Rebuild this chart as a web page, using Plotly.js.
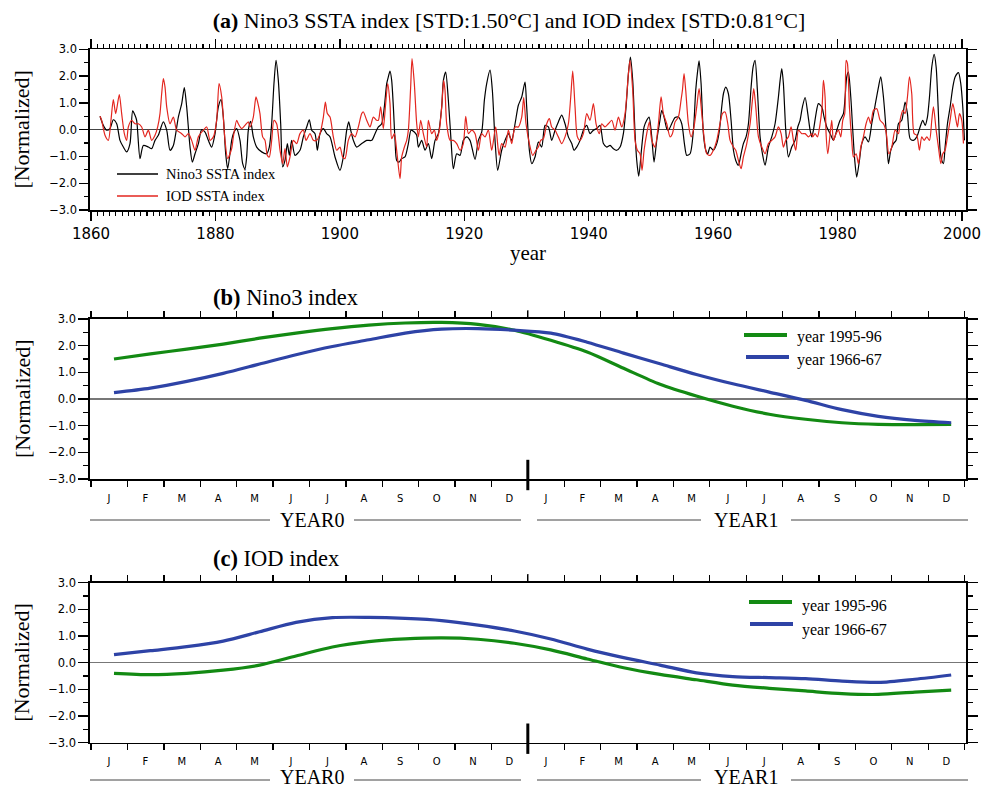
<!DOCTYPE html>
<html><head><meta charset="utf-8">
<script src="https://cdn.plot.ly/plotly-3.0.1.min.js"></script>
<style>html,body{margin:0;padding:0;background:#fff}#chart{width:986px;height:790px}</style>
</head><body><div id="chart"></div>
<script>
// ---------- DATA ----------
const nino3Year = [1861.45,1861.98,1862.52,1863.05,1863.59,1864.13,1864.66,1865.20,1865.73,1866.27,1866.70,1867.07,1867.34,1867.88,1868.41,1869.22,1869.75,1870.29,1870.82,1871.63,1872.17,1872.70,1873.24,1874.04,1874.58,1875.00,1875.38,1875.92,1876.29,1876.72,1877.26,1877.79,1878.33,1878.86,1879.40,1879.94,1880.47,1880.90,1881.27,1881.65,1881.97,1882.61,
1882.88,1883.41,1883.95,1884.38,1884.75,1885.02,1885.29,1885.66,1886.09,1886.63,1887.43,1888.23,1888.66,1889.04,1889.41,1889.74,1890.11,1890.49,1890.81,1891.18,1891.56,1891.88,1892.25,1892.79,1893.59,1894.13,1894.67,1895.09,1895.47,1896.01,1896.38,1896.81,1897.35,1897.88,1898.42,1899.22,1900.02,1900.56,1901.10,1901.42,1901.74,1902.17,1902.70,1903.51,1904.31,1905.12,1905.65,
1906.19,1906.72,1907.15,1907.53,1907.79,1908.06,1908.33,1908.60,1908.87,1909.13,1909.51,1909.94,1910.47,1911.01,1911.44,1911.97,1912.35,1912.62,1913.15,1913.69,1914.22,1914.76,1915.30,1915.83,1916.37,1916.64,1917.01,1917.44,1917.87,1918.24,1918.78,1919.32,1919.85,1920.39,1920.92,1921.73,1922.26,1922.80,1923.23,1923.60,1924.14,1924.51,1924.94,1925.37,1926.01,1926.55,1927.09,1927.62,1928.16,1928.69,1929.23,
1929.76,1930.03,1930.46,1930.84,1931.37,1931.91,1932.44,1932.98,1933.52,1934.05,1934.59,1935.12,1935.66,1936.19,1936.73,1937.27,1937.64,1938.07,1938.61,1939.14,1939.68,1940.21,1940.75,1941.29,1941.82,1942.36,1942.89,1943.43,1943.97,1944.50,1945.04,1945.57,1946.00,1946.38,1946.70,1947.07,1947.45,1947.72,1948.04,1948.52,1948.90,1949.32,1949.70,1950.13,1950.50,1950.93,1951.36,1951.74,1952.11,1952.54,
1952.81,1953.34,1953.88,1954.41,1954.95,1955.38,1955.75,1956.29,1956.83,1957.20,1957.52,1957.74,1958.06,1958.43,1958.81,1959.13,1959.50,1960.04,1960.58,1961.01,1961.38,1961.65,1962.02,1962.45,1962.88,1963.26,1963.63,1964.06,1964.49,1964.86,1965.29,1965.67,1966.10,1966.42,1966.74,1967.11,1967.54,1967.92,1968.35,1968.88,1969.42,1969.95,1970.49,1970.76,1971.03,1971.29,1971.67,1972.10,1972.63,1973.17,1973.60,1973.97,1974.35,1974.78,1975.21,1975.58,1975.85,
1976.12,1976.54,1976.92,1977.46,1977.83,1978.26,1978.80,1979.33,1979.87,1980.40,1980.94,1981.21,1981.47,1981.74,1982.12,1982.44,1982.76,1983.08,1983.51,1983.89,1984.42,1984.96,1985.49,1986.03,1986.57,1986.94,1987.37,1987.80,1988.17,1988.55,1988.98,1989.41,1989.78,1990.32,1990.85,1991.23,1991.66,1992.19,1992.73,1993.26,1993.69,1994.07,1994.44,1994.77,1995.14,1995.52,1995.84,1996.16,1996.48,1996.75,1997.02,1997.28,1997.66,1998.09,1998.52,1998.89,1999.43,1999.80,2000.12,2000.39];
const nino3Val = [0.50,0.16,-0.02,0.04,0.37,0.22,-0.40,-0.65,-0.83,-0.52,0.70,0.54,0.35,-1.08,-0.59,-0.65,-0.71,-0.40,-0.21,0.29,-0.02,-0.77,-0.59,0.47,0.97,1.57,0.85,-0.65,-1.21,-0.90,-0.52,0.00,-0.09,-0.40,-0.65,-0.15,0.85,1.12,0.47,-0.90,-1.46,-0.40,
-0.15,0.04,-0.40,-1.27,-1.46,-1.02,-0.02,0.31,-0.27,-0.65,-0.83,-0.90,-0.65,0.22,1.72,2.59,1.84,0.22,-1.39,-1.15,-0.52,-0.96,-0.40,-0.96,-0.77,-0.27,0.10,0.37,-0.02,-0.15,-0.77,-0.15,0.04,-0.15,-0.27,-1.02,-1.52,-1.02,-0.02,0.29,-0.02,-0.40,-0.65,-0.52,-0.40,-0.40,-0.15,
0.10,0.22,0.85,1.72,1.97,2.19,1.84,0.85,-0.40,-1.15,-1.21,-1.08,-1.02,-0.52,-0.02,-0.09,-0.21,-0.65,-0.40,-0.77,-0.52,-1.08,-0.40,-0.15,0.85,1.84,2.15,1.10,-0.40,-1.46,-0.90,-0.96,-0.40,-0.27,-0.40,-1.11,-0.40,-0.09,1.10,1.72,2.22,1.47,-0.40,-1.52,-0.77,-0.40,-0.15,-0.40,0.22,0.91,1.22,
1.78,0.85,-0.77,-1.27,-1.02,-0.46,-0.65,0.16,0.10,-0.40,-0.02,0.29,0.54,0.22,-0.27,-0.52,-0.77,-0.65,-0.40,-0.02,0.16,-0.15,-0.02,0.04,0.16,-0.52,-0.65,-0.59,-0.71,-0.77,-0.65,-0.15,0.85,2.09,2.71,1.84,-0.15,-1.15,-1.74,-0.65,0.10,0.35,0.47,-0.27,-1.21,-0.40,0.22,0.72,0.47,0.04,
-0.02,0.22,0.45,0.47,0.22,-0.52,-0.96,-0.90,-0.02,1.47,2.22,2.57,1.72,-0.15,-0.77,-0.90,-0.65,-0.77,-0.52,-0.02,0.85,1.34,1.59,1.34,0.35,-0.77,-1.15,-1.33,-0.90,-0.52,-0.27,0.22,1.59,2.34,2.59,1.47,-0.27,-0.90,-1.33,-0.65,-0.27,0.22,1.22,1.84,2.28,1.72,-0.02,-1.02,-0.65,-0.40,0.10,0.35,0.85,1.20,0.60,-0.02,-0.27,
-0.02,0.60,0.97,0.85,0.47,0.10,-0.15,-0.40,-0.02,0.35,0.60,1.22,1.97,2.15,1.22,-0.02,-1.15,-1.77,-1.15,-0.52,-0.27,-0.46,0.22,0.91,1.59,1.97,1.22,-0.02,-1.27,-0.77,-0.52,-0.40,0.22,0.35,1.03,0.60,-0.34,-0.40,-0.27,0.10,0.35,0.16,0.47,1.22,2.34,2.81,2.34,0.85,-0.77,-1.15,-1.27,-0.65,0.22,0.85,1.59,1.97,2.13,1.72,0.85,-0.40];

const iodYear = [1861.45,1861.71,1862.25,1862.79,1863.21,1863.59,1863.97,1864.55,1864.93,1865.36,1865.73,1866.00,1866.54,1867.07,1867.61,1868.15,1868.68,1869.22,1869.75,1870.29,1870.72,1871.09,1871.36,1871.63,1871.90,1872.17,1872.70,1873.24,1873.77,1874.58,1875.11,1875.65,1876.18,1876.72,1877.26,1878.06,1878.60,1879.13,1879.67,1880.20,1880.58,1881.01,1881.54,1881.97,1882.61,
1882.88,1883.41,1883.68,1884.22,1884.75,1885.29,1885.56,1886.09,1886.52,1886.90,1887.16,1887.59,1887.97,1888.34,1888.66,1889.04,1889.41,1889.84,1890.38,1890.81,1891.18,1891.56,1891.99,1892.52,1893.06,1893.59,1894.13,1894.56,1895.20,1895.74,1896.27,1896.81,1897.35,1897.67,1897.99,1898.42,1898.95,1899.49,1900.02,1900.45,1900.83,1901.36,1901.90,1902.44,1902.97,1903.51,1903.78,1904.31,1904.85,1905.38,1905.92,
1906.19,1906.56,1906.99,1907.36,1907.69,1908.06,1908.33,1908.76,1909.13,1909.67,1909.94,1910.37,1910.74,1911.01,1911.38,1911.60,1911.97,1912.35,1912.62,1912.99,1913.42,1913.96,1914.22,1914.76,1915.19,1915.56,1915.99,1916.37,1916.69,1916.90,1917.17,1917.71,1918.24,1918.78,1919.32,1919.85,1920.23,1920.66,1921.19,1921.73,1922.26,1922.80,1923.33,1923.87,1924.41,1925.05,1925.59,1926.01,1926.55,1927.09,1927.62,1928.16,1928.69,1929.23,1929.55,
1929.92,1930.46,1931.00,1931.53,1931.91,1932.28,1932.71,1933.25,1933.68,1934.05,1934.59,1935.12,1935.66,1936.19,1936.73,1937.11,1937.43,1937.80,1938.18,1938.61,1939.14,1939.68,1940.21,1940.75,1941.18,1941.71,1942.09,1942.63,1943.16,1943.70,1944.23,1944.77,1945.30,1945.84,1946.38,1946.64,1947.07,1947.45,1947.82,1948.25,1948.57,1948.90,1949.32,1949.75,1950.13,1950.66,1951.20,1951.63,1952.00,1952.54,
1953.07,1953.45,1953.88,1954.41,1954.84,1955.06,1955.32,1955.59,1956.02,1956.45,1956.83,1957.36,1957.74,1958.17,1958.59,1958.97,1959.50,1960.04,1960.58,1961.01,1961.49,1961.92,1962.35,1962.72,1963.26,1963.63,1964.06,1964.49,1964.86,1965.40,1965.94,1966.31,1966.53,1966.85,1967.28,1967.81,1968.35,1968.88,1969.42,1969.95,1970.49,1970.92,1971.29,1971.67,1972.10,1972.53,1972.90,1973.28,1973.71,1974.24,1974.78,1975.31,1975.85,
1976.01,1976.38,1976.76,1977.19,1977.51,1977.72,1977.99,1978.15,1978.42,1978.69,1979.06,1979.33,1979.76,1980.14,1980.51,1980.83,1981.15,1981.37,1981.58,1981.90,1982.28,1982.55,1982.98,1983.35,1983.73,1984.15,1984.58,1984.96,1985.33,1985.76,1986.30,1986.83,1987.37,1987.80,1988.23,1988.71,1989.25,1989.78,1990.05,1990.48,1990.85,1991.23,1991.55,1991.92,1992.30,1992.73,1993.16,1993.53,1993.91,1994.34,1994.77,1995.14,1995.41,1995.84,1996.21,1996.59,1996.91,1997.28,1997.66,1998.09,1998.52,1998.95,1999.27,1999.59,1999.96,2000.23];
const iodVal = [0.50,0.35,-0.21,-0.40,0.35,1.12,0.60,1.31,0.60,-0.15,-0.40,0.10,0.35,0.22,0.22,0.10,-0.27,-0.02,-0.40,-0.21,0.10,0.60,1.34,1.91,1.59,0.85,0.22,0.47,-0.02,-0.15,-0.27,-0.15,-0.40,-0.77,-0.27,-0.02,0.10,-0.40,-0.27,0.35,1.72,1.22,-0.40,-1.08,-0.71,
-0.27,0.35,0.22,0.04,0.16,0.29,0.10,0.47,1.22,0.91,0.60,-0.27,-0.40,-0.96,-1.02,-0.40,0.35,0.22,-0.77,-1.27,-0.71,-1.39,-1.02,-0.40,-0.52,-0.15,-0.02,-0.40,-0.15,-0.40,-0.40,-0.15,0.47,1.03,0.60,0.47,-0.27,-0.77,-0.65,-1.02,-1.08,-0.40,-0.15,-0.27,0.10,0.60,0.66,0.35,0.10,0.47,0.35,
0.35,0.85,0.04,0.97,1.72,0.97,-0.34,-0.15,-0.77,-1.83,-1.02,-0.65,-0.40,-0.02,1.59,2.65,1.72,0.22,-0.27,0.35,-0.15,-0.65,0.35,-0.15,-0.02,-0.40,-0.02,0.85,1.84,1.47,0.22,-0.40,-0.40,-0.52,-0.77,-0.52,0.50,-0.15,-0.02,-0.15,-0.77,-0.15,-0.27,-0.02,-0.77,0.10,-0.96,-0.52,-0.65,-0.02,-0.52,0.10,0.10,0.47,1.20,
0.22,-0.52,-0.96,-0.77,-0.65,-0.40,-0.34,0.22,0.41,0.10,-0.02,-0.27,-0.52,-0.27,0.22,1.22,2.19,0.85,-0.27,-0.40,-0.15,0.60,0.35,0.97,0.22,-0.15,0.22,0.10,0.22,0.35,-0.02,0.47,0.10,0.60,2.09,2.59,1.47,-0.40,-0.77,-0.90,-1.52,-0.77,-0.15,0.29,-0.40,-0.65,0.22,1.22,0.60,0.22,
-0.27,-0.15,0.29,0.47,1.10,1.47,2.09,1.47,0.22,-0.27,-0.02,0.85,1.53,0.60,-0.40,-0.90,-0.96,-0.77,-0.40,0.10,0.60,0.66,0.22,-0.40,-0.65,-0.77,-1.15,-1.46,-1.02,-0.52,0.22,1.10,1.53,0.85,-0.27,-0.65,-0.90,-0.52,-0.40,-0.27,0.10,-0.15,-0.65,-0.40,-0.27,0.10,-0.40,-0.77,-0.02,-0.15,-0.15,-0.27,-0.15,
-0.27,-0.15,-0.27,0.22,0.85,1.84,1.22,-0.15,-0.90,-0.40,0.35,-0.40,-0.15,-0.02,-0.27,0.35,0.60,2.59,2.47,0.85,-0.40,-1.02,-0.90,-1.27,-0.65,-0.27,0.22,0.47,0.22,0.72,0.78,0.35,0.22,-0.09,-0.90,-0.65,-0.02,-0.15,0.35,0.72,0.60,1.22,1.97,1.34,-0.15,-0.21,-0.77,-0.27,-0.40,-0.27,-0.40,0.35,0.85,-0.02,-0.65,-1.27,-0.90,-0.77,-0.27,0.35,0.97,0.47,0.10,0.60,0.35,-0.52];

const yearTicks = [1860,1880,1900,1920,1940,1960,1980,2000];
const yTickVals = [-3,-2,-1,0,1,2,3];
const yTickText = ['\u22123.0','\u22122.0','\u22121.0','0.0','1.0','2.0','3.0'];

const monthIndex = [0,1,2,3,4,5,6,7,8,9,10,11,12,13,14,15,16,17,18,19,20,21,22,23];
const monthLabels = ['J','F','M','A','M','J','J','A','S','O','N','D','J','F','M','A','M','J','J','A','S','O','N','D'];

const nino3_1995_96 = [1.50,1.69,1.87,2.06,2.28,2.47,2.64,2.77,2.85,2.87,2.80,2.58,2.20,1.76,1.15,0.55,0.11,-0.27,-0.57,-0.76,-0.89,-0.95,-0.96,-0.95];
const nino3_1966_67 = [0.24,0.41,0.66,0.96,1.31,1.66,1.97,2.22,2.47,2.62,2.64,2.58,2.47,2.13,1.72,1.32,0.92,0.57,0.26,-0.05,-0.40,-0.65,-0.80,-0.89];
const iod_1995_96 = [-0.40,-0.45,-0.40,-0.28,-0.09,0.25,0.59,0.79,0.89,0.93,0.88,0.73,0.48,0.14,-0.19,-0.44,-0.64,-0.84,-0.96,-1.06,-1.16,-1.19,-1.10,-1.03];
const iod_1966_67 = [0.30,0.45,0.60,0.81,1.16,1.51,1.69,1.70,1.66,1.58,1.41,1.19,0.89,0.51,0.19,-0.09,-0.38,-0.52,-0.56,-0.60,-0.69,-0.74,-0.62,-0.46];

const seriesNames = ['Nino3 SSTA index','IOD SSTA index','year 1995-96','year 1966-67'];

// ---------- STYLE / LAYOUT ----------
const W = 986, H = 790;
const PX = v => v / W;
const PY = v => 1 - v / H;
const SERIF = 'Liberation Serif, Times New Roman, serif';
const SANS = 'DejaVu Sans, sans-serif';
const BLACK = '#000000', RED = '#e3261f', GREEN = '#138a13', BLUE = '#2e43a6';

const xDom = [PX(90), PX(966)];
const domA = [PY(210), PY(49.3)];
const domB = [PY(479), PY(319)];
const domC = [PY(742.7), PY(582.7)];

const monthTickPos = [], monthTickText = [];
for (let i = -1; i <= 23; i++) {
  monthTickPos.push(i + 0.37);
  monthTickText.push(i + 1 <= 23 ? monthLabels[i + 1] : '');
}

const base = {showline:true, linecolor:'#000', linewidth:1.6, mirror:'ticks', ticks:'outside',
  tickcolor:'#000', tickwidth:1.3, showgrid:false, zeroline:false, fixedrange:true};

function yAx(dom, anchor, zlColor, majorLen, minorLen) {
  return Object.assign({}, base, {domain: dom, anchor: anchor, range: [-3, 3],
    tickmode:'array', tickvals: yTickVals, ticktext: yTickText, ticklen: majorLen,
    tickfont: {family: SANS, size: 11.5, color: '#000'},
    minor: {dtick: 0.5, tick0: 0, ticklen: minorLen, ticks: 'outside', tickcolor: '#000', tickwidth: 1.1},
    zeroline: true, zerolinecolor: zlColor, zerolinewidth: 1.5});
}
function mAx(dom, anchor) {
  return Object.assign({}, base, {domain: dom, anchor: anchor, range: [-0.659, 23.407],
    tickmode:'array', tickvals: monthTickPos, ticktext: monthTickText, ticklen: 6,
    ticklabelshift: 18, ticklabelstandoff: 3,
    tickfont: {family: SANS, size: 10, color: '#000'}});
}

const traces = [
  {x: nino3Year, y: nino3Val, xaxis:'x', yaxis:'y', type:'scatter', mode:'lines', name: seriesNames[0],
   line:{color:BLACK, width:1.2, shape:'spline', smoothing:0.7}},
  {x: iodYear, y: iodVal, xaxis:'x', yaxis:'y', type:'scatter', mode:'lines', name: seriesNames[1],
   line:{color:RED, width:1.2, shape:'spline', smoothing:0.7}},
  {x: monthIndex, y: nino3_1995_96, xaxis:'x2', yaxis:'y2', type:'scatter', mode:'lines', name: seriesNames[2],
   line:{color:GREEN, width:3.2, shape:'spline', smoothing:0.8}},
  {x: monthIndex, y: nino3_1966_67, xaxis:'x2', yaxis:'y2', type:'scatter', mode:'lines', name: seriesNames[3],
   line:{color:BLUE, width:3.2, shape:'spline', smoothing:0.8}},
  {x: monthIndex, y: iod_1995_96, xaxis:'x3', yaxis:'y3', type:'scatter', mode:'lines', name: seriesNames[2],
   line:{color:GREEN, width:3.2, shape:'spline', smoothing:0.8}},
  {x: monthIndex, y: iod_1966_67, xaxis:'x3', yaxis:'y3', type:'scatter', mode:'lines', name: seriesNames[3],
   line:{color:BLUE, width:3.2, shape:'spline', smoothing:0.8}}
];

const shapes = [];
const annotations = [];
function pline(x0, y0, x1, y1, color, width) {
  shapes.push({type:'line', xref:'paper', yref:'paper', x0: PX(x0), y0: PY(y0), x1: PX(x1), y1: PY(y1),
    line:{color: color, width: width}});
}
function ptext(x, y, text, size, anchor) {
  annotations.push({xref:'paper', yref:'paper', x: PX(x), y: PY(y), text: text, showarrow:false,
    xanchor: anchor || 'left', yanchor:'middle', font:{family: SERIF, size: size, color:'#000'}});
}

// legends
pline(117, 174, 158, 174, BLACK, 1.5); ptext(164, 174, seriesNames[0], 14.5);
pline(117, 196, 158, 196, RED, 1.5);   ptext(164, 196, seriesNames[1], 14.5);
pline(744, 335, 787, 335, GREEN, 4);   ptext(795, 337, seriesNames[2], 16);
pline(746, 357, 789, 357, BLUE, 4);    ptext(795, 360, seriesNames[3], 16);
pline(749, 602, 792, 602, GREEN, 4);   ptext(800, 606, seriesNames[2], 16);
pline(750, 624, 793, 624, BLUE, 4);    ptext(800, 630, seriesNames[3], 16);

// panel titles
ptext(211, 297, '<b>(b)</b> Nino3 index', 22.5);
ptext(211, 558, '<b>(c)</b> IOD index', 22.5);

// y axis titles
[[129.6, 'a'], [399, 'b'], [662.7, 'c']].forEach(function (d) {
  annotations.push({xref:'paper', yref:'paper', x: PX(22), y: PY(d[0]), text:'[Normalized]', textangle:-90,
    showarrow:false, xanchor:'center', yanchor:'middle', font:{family: SERIF, size: 22, color:'#000'}});
});

// year-0 / year-1 brackets
[[520, 520], [780, 777]].forEach(function (d) {
  const y = d[0], ty = d[1];
  pline(90, y, 270, y, '#444', 1); pline(354, y, 521, y, '#444', 1);
  pline(537, y, 701, y, '#444', 1); pline(791, y, 968, y, '#444', 1);
  ptext(312, ty, 'YEAR0', 20, 'center');
  ptext(746, ty, 'YEAR1', 20, 'center');
});

// year boundary marks
['x2', 'x3'].forEach(function (xa, k) {
  const ya = k === 0 ? 'y2' : 'y3';
  shapes.push({type:'line', xref: xa + ' domain', yref: ya + ' domain', x0: 0.4998, x1: 0.4998, y0: -0.07, y1: 0.12,
    line:{color:'#000', width:3}});
  shapes.push({type:'line', xref: xa + ' domain', yref: ya + ' domain', x0: 0.4998, x1: 0.4998, y0: 1, y1: 1.055,
    line:{color:'#000', width:1.3}});
});

const layout = {
  width: W, height: H, margin:{l:0, r:0, t:0, b:0},
  paper_bgcolor:'#fff', plot_bgcolor:'#fff', showlegend:false,
  title:{text:'<b>(a)</b> Nino3 SSTA index [STD:1.50\u00b0C] and IOD index [STD:0.81\u00b0C]',
    x: PX(509), xanchor:'center', y: PY(20), yanchor:'middle', font:{family: SERIF, size: 22, color:'#000'}},
  xaxis: Object.assign({}, base, {domain: xDom, anchor:'y', range:[1859.84, 2000.64],
    tickmode:'array', tickvals: yearTicks, ticktext: yearTicks.map(String), ticklen: 9,
    tickfont:{family: SANS, size: 15, color:'#000'},
    minor:{dtick:1, tick0:1860, ticklen:4, ticks:'outside', tickcolor:'#000', tickwidth:1.1},
    title:{text:'year', font:{family: SERIF, size: 21, color:'#000'}, standoff: 4}}),
  yaxis: yAx(domA, 'x', '#444', 9, 4),
  xaxis2: mAx(xDom, 'y2'),
  yaxis2: yAx(domB, 'x2', '#777', 10, 5),
  xaxis3: mAx(xDom, 'y3'),
  yaxis3: yAx(domC, 'x3', '#777', 10, 5),
  shapes: shapes, annotations: annotations
};

Plotly.newPlot('chart', traces, layout, {staticPlot:true, displayModeBar:false});
</script></body></html>
